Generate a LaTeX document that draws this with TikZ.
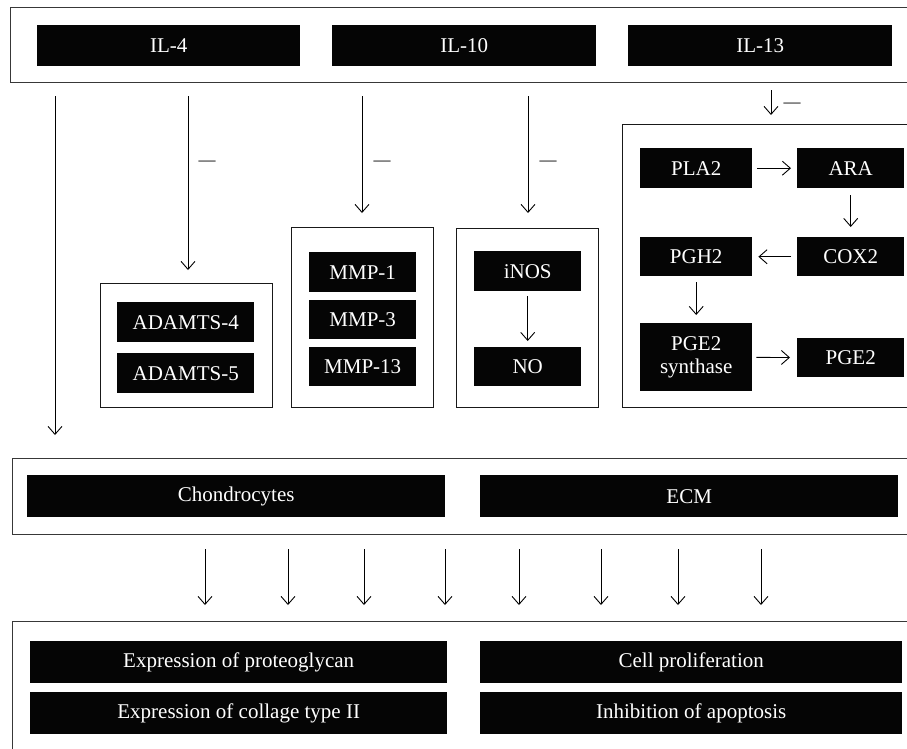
\documentclass[tikz,border=0pt]{standalone}
\usepackage{fontspec}
\setmainfont{Liberation Serif}
\usetikzlibrary{arrows.meta,calc}
\newcommand\bx[7]{\node[#2, anchor=north west, minimum width=#5pt-#3pt, minimum height=#6pt-#4pt] (#1) at (#3,#4) {#7};}
\begin{document}
\begin{tikzpicture}[x=1pt,y=-1pt,
 blk/.style={fill=black!98, text=white, inner sep=0pt, font=\fontsize{21}{23}\selectfont, align=center},
 frame/.style={draw=black!78, line width=1.4pt, inner sep=0pt},
 cont/.style={draw=black!90, line width=1.1pt, inner sep=0pt},
 arr/.style={-{Straight Barb[length=8pt,width=14pt]}, line width=0.9pt},
 minus/.style={font=\fontsize{17}{17}\selectfont, inner sep=0pt}]
\useasboundingbox (0,0) rectangle (907,748);
\clip (0,0) rectangle (907,748);
% top
\bx{top}{frame}{10}{7}{925}{82}{}
\bx{il4}{blk}{37}{25}{300}{66}{IL-4}
\bx{il10}{blk}{332}{25}{596}{66}{IL-10}
\bx{il13}{blk}{628}{25}{892}{66}{IL-13}
% containers
\bx{adam}{cont}{100}{283}{272}{407}{}
\bx{ad4}{blk}{117}{302}{254}{342}{ADAMTS-4}
\bx{ad5}{blk}{117}{353}{254}{393}{ADAMTS-5}
\bx{mmp}{cont}{291}{227}{433}{407}{}
\bx{m1}{blk}{309}{252}{416}{292}{MMP-1}
\bx{m3}{blk}{309}{300}{416}{339}{MMP-3}
\bx{m13}{blk}{309}{347}{416}{386}{MMP-13}
\bx{nos}{cont}{456}{228}{598}{407}{}
\bx{inos}{blk}{474}{251}{581}{291}{iNOS}
\bx{no}{blk}{474}{347}{581}{386}{NO}
\bx{pg}{cont}{622}{124}{925}{407}{}
\bx{pla}{blk}{640}{148}{752}{188}{PLA2}
\bx{ara}{blk}{797}{148}{904}{188}{ARA}
\bx{cox}{blk}{797}{237}{904}{276}{COX2}
\bx{pgh}{blk}{640}{237}{752}{276}{PGH2}
\bx{syn}{blk}{640}{323}{752}{391}{PGE2\\synthase}
\bx{pge}{blk}{797}{338}{904}{377}{PGE2}
% middle
\bx{mid}{frame}{12}{458}{925}{534}{}
\bx{cho}{blk}{27}{475}{445}{517}{Chondrocytes}
\bx{ecm}{blk}{480}{475}{898}{517}{ECM}
% bottom
\bx{bot}{frame}{12}{621}{925}{770}{}
\bx{e1}{blk}{30}{641}{447}{683}{Expression of proteoglycan}
\bx{e2}{blk}{480}{641}{902}{683}{Cell proliferation}
\bx{e3}{blk}{30}{692}{447}{734}{Expression of collage type II}
\bx{e4}{blk}{480}{692}{902}{734}{Inhibition of apoptosis}
% arrows from top
\coordinate (c1) at (55,0);
\coordinate (c2) at (188,0);
\coordinate (c3) at (362,0);
\coordinate (c4) at (528,0);
\coordinate (c5) at (771,0);
\draw[arr, shorten <=13pt, shorten >=23pt] (top.south -| c1) -- (mid.north -| c1);
\draw[arr, shorten <=13pt, shorten >=13pt] (top.south -| c2) -- (adam.north -| c2);
\draw[arr, shorten <=13pt, shorten >=14pt] (top.south -| c3) -- (mmp.north -| c3);
\draw[arr, shorten <=13pt, shorten >=15pt] (top.south -| c4) -- (nos.north -| c4);
\draw[arr, shorten <=7pt, shorten >=9pt] (top.south -| c5) -- (pg.north -| c5);
\node[minus] (mn1) at (207,163) {—};
\node[minus] (mn2) at (382,163) {—};
\node[minus] (mn3) at (548,163) {—};
\node[minus] (mn4) at (792,105) {—};
% inner arrows
\draw[arr, shorten <=5pt, shorten >=6pt] (inos) -- (no);
\draw[arr, shorten <=5pt, shorten >=6pt] (pla) -- (ara);
\draw[arr, shorten <=7pt, shorten >=10pt] (ara) -- (cox);
\draw[arr, shorten <=6pt, shorten >=6pt] (cox) -- (pgh);
\draw[arr, shorten <=6pt, shorten >=8pt] (pgh) -- (syn);
\draw[arr, shorten <=4pt, shorten >=7pt] (syn) -- (pge);
% bottom arrows
\foreach \i/\x in {1/205,2/288,3/364,4/445,5/519,6/601,7/678,8/761}{
  \coordinate (b\i) at (\x,0);
  \draw[arr, shorten <=14pt, shorten >=16pt] (mid.south -| b\i) -- (bot.north -| b\i);
}
\end{tikzpicture}
\end{document}
